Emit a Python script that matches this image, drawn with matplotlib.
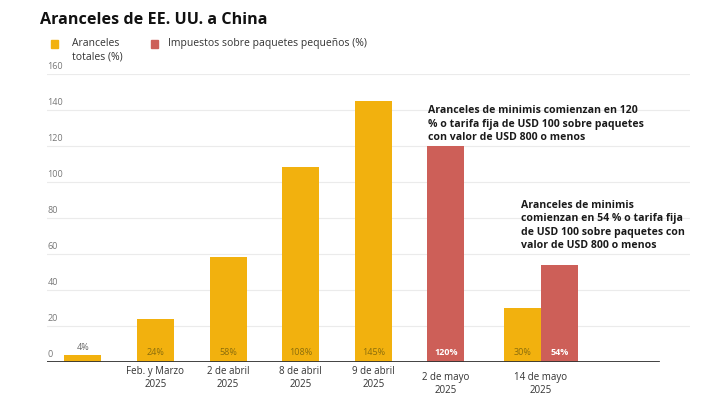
"""
Aranceles de EE. UU. a China - bar chart
"""
import matplotlib.pyplot as plt
import matplotlib.transforms as mtransforms

plt.rcParams['font.family'] = ['Open Sans', 'DejaVu Sans']

# Data
periodos = ["", "Feb. y Marzo\n2025", "2 de abril\n2025", "8 de abril\n2025",
            "9 de abril\n2025", "2 de mayo\n2025", "14 de mayo\n2025"]
totales_periodo = [0, 1, 2, 3, 4, 6]
totales = [4, 24, 58, 108, 145, 30]
paquetes_periodo = [5, 6]
paquetes = [120, 54]
yticks = [0, 20, 40, 60, 80, 100, 120, 140, 160]

nota_mayo2 = "Aranceles de minimis comienzan en 120\n% o tarifa fija de USD 100 sobre paquetes\ncon valor de USD 800 o menos"
nota_mayo14 = "Aranceles de minimis\ncomienzan en 54 % o tarifa fija\nde USD 100 sobre paquetes con\nvalor de USD 800 o menos"

amarillo = '#F2B10E'
rojo = '#CD5F58'

# x position for each period (last group is wider, two bars)
xpos = [0, 1, 2, 3, 4, 5, 6.31]
w = 0.51

fig = plt.figure(figsize=(7.09, 3.99), dpi=100)
ax = fig.add_axes([0.066, 0.093, 0.907, 0.722])

xt = [xpos[i] for i in totales_periodo]
xt[-1] = xpos[6] - w / 2
xp = [xpos[i] for i in paquetes_periodo]
xp[-1] = xpos[6] + w / 2

ax.bar(xt, totales, width=w, color=amarillo, zorder=2)
ax.bar(xp, paquetes, width=w, color=rojo, zorder=2)

ax.set_xlim(-0.496, 8.36)
ax.set_ylim(0, 160)
for s in ax.spines.values():
    s.set_visible(False)
ax.set_xticks([])
ax.set_yticks([])

# gridlines + labels above them
for y in yticks:
    if y > 0:
        ax.axhline(y, color='#ebebeb', lw=0.8, zorder=0)
    ax.text(-0.485, y + 1.5, str(y), fontsize=6.5, color='#777777',
            ha='left', va='bottom')
ax.axhline(0, xmin=0, xmax=0.952, color='#333333', lw=1.3, zorder=3)

# value labels
for x, v in zip(xt, totales):
    if v < 10:
        ax.text(x, v + 1.5, f"{v}%", fontsize=6.5, color='#666666',
                ha='center', va='bottom')
    else:
        ax.text(x, 2.5, f"{v}%", fontsize=6.5, color='#8a6d0c',
                ha='center', va='bottom')
for x, v in zip(xp, paquetes):
    ax.text(x, 2.5, f"{v}%", fontsize=6.5, color='white', fontweight='bold',
            ha='center', va='bottom')

# category labels
trans = mtransforms.blended_transform_factory(ax.transData, ax.transAxes)
for i, lab in enumerate(periodos):
    if not lab:
        continue
    dy = -0.015 if i < 5 else -0.036
    ax.text(xpos[i], dy, lab, transform=trans, fontsize=7, color='#333333',
            ha='center', va='top', linespacing=1.25)

# annotations
ax.text(4.76, 142.5, nota_mayo2, fontsize=7.6, fontweight='bold', color='#1a1a1a',
        ha='left', va='top', linespacing=1.3)
ax.text(6.04, 90, nota_mayo14, fontsize=7.6, fontweight='bold', color='#1a1a1a',
        ha='left', va='top', linespacing=1.3)

# title and legend
fig.text(40 / 709, 1 - 20 / 399, "Aranceles de EE. UU. a China", fontsize=11.6,
         fontweight='bold', color='#111111', ha='left', va='center')
fig.patches.append(plt.Rectangle((51 / 709, 1 - 48 / 399), 7 / 709, 8 / 399,
                                 color=amarillo, transform=fig.transFigure))
fig.text(72 / 709, 1 - 38 / 399, "Aranceles\ntotales (%)", fontsize=7.5,
         color='#333333', ha='left', va='top', linespacing=1.3)
fig.patches.append(plt.Rectangle((151 / 709, 1 - 48 / 399), 7 / 709, 8 / 399,
                                 color=rojo, transform=fig.transFigure))
fig.text(168 / 709, 1 - 38 / 399, "Impuestos sobre paquetes pequeños (%)",
         fontsize=7.5, color='#333333', ha='left', va='top')

plt.savefig('out.png', dpi=100)
